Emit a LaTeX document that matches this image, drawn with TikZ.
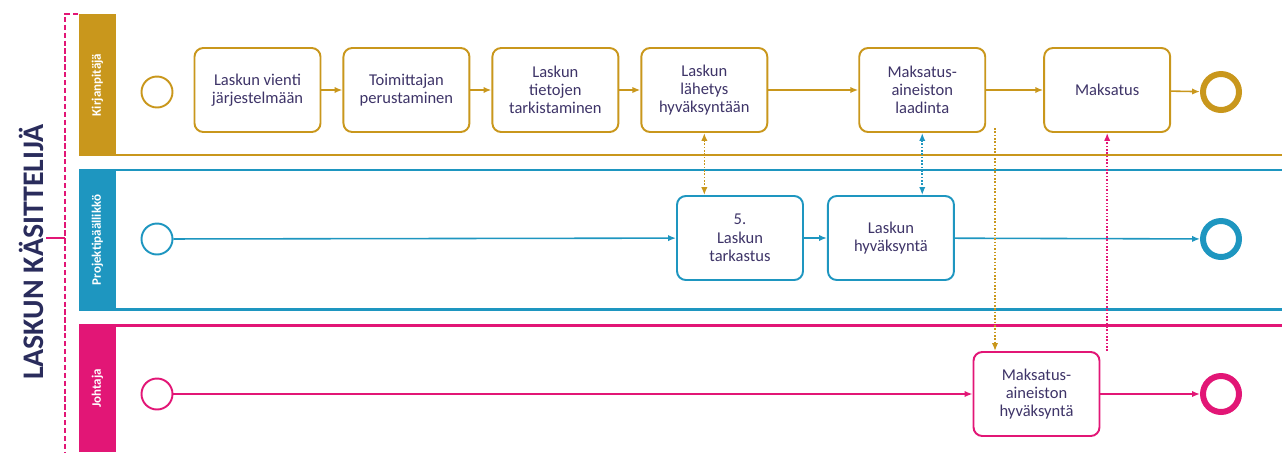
\documentclass[tikz,border=0pt]{standalone}
\usepackage{fontspec}
\setmainfont{Carlito}
\usepackage{tikz}
\usetikzlibrary{arrows.meta, positioning, calc}
\definecolor{kpgold}{RGB}{201,151,28}
\definecolor{ppblue}{RGB}{30,150,192}
\definecolor{jpink}{RGB}{226,22,118}
\definecolor{navy}{RGB}{42,44,92}
\definecolor{inktext}{RGB}{62,52,104}

\begin{document}
\begin{tikzpicture}[
    x=0.2mm, y=-0.2mm,
    >={Latex[length=4.5pt,width=3.6pt]},
    node distance=0.42cm,
    every text node part/.style={align=center},
    task/.style={draw, line width=1.1pt, rounded corners=5pt, fill=white, minimum width=2.52cm, minimum height=1.68cm, inner sep=2pt, font=\fontsize{9.4}{10.4}\selectfont, text=inktext},
    startev/.style={circle, draw, line width=1.1pt, minimum size=0.62cm, inner sep=0pt},
    endev/.style={circle, draw, line width=3.4pt, minimum size=0.72cm, inner sep=0pt},
    lanehead/.style={rotate=90, inner sep=0pt, font=\bfseries\fontsize{7.4}{8}\selectfont, text=white, minimum height=0.74cm},
    flow/.style={->, line width=0.9pt},
    msg/.style={line width=0.9pt, densely dotted},
    laneline/.style={line width=1.7pt}
]
\useasboundingbox (0,0) rectangle (1282,452);

% ==================== POOL LABEL ====================
\node[rotate=90, font=\bfseries\fontsize{17}{20}\selectfont, text=navy] (pool) at (31,252) {LASKUN KÄSITTELIJÄ};
\draw[jpink, line width=0.9pt, dash pattern=on 3pt off 1.5pt] (78,14) -- (65,14) -- (65,452);
\draw[jpink, line width=0.9pt] (65,238) -- (46,238);

% ==================== LANES ====================
\node[lanehead, fill=kpgold, minimum width=2.84cm] (kp_head) at (97.5,85) {Kirjanpitäjä};
\node[lanehead, fill=ppblue, minimum width=2.80cm] (pp_head) at (97.5,240) {Projektipäällikkö};
\node[lanehead, fill=jpink, minimum width=2.54cm] (jo_head) at (97.5,388.5) {Johtaja};

\draw[laneline, kpgold] (79,155) -- (1282,155);
\draw[laneline, ppblue] (79,170) -- (1282,170);
\draw[laneline, ppblue] (79,309) -- (1282,309);
\draw[laneline, jpink] (79,325) -- (1282,325);

% ==================== KIRJANPITAJA ====================
\node[startev, draw=kpgold] (kp_start) at (157,92) {};
\node[task, draw=kpgold] (vienti) at (257.5,90) {Laskun vienti\\järjestelmään};
\node[task, draw=kpgold, right=of vienti] (toimittaja) {Toimittajan\\perustaminen};
\node[task, draw=kpgold, right=of toimittaja] (tarkistus) {Laskun\\tietojen\\tarkistaminen};
\node[task, draw=kpgold, right=of tarkistus] (lahetys) {Laskun\\lähetys\\hyväksyntään};
\node[task, draw=kpgold, right=1.8cm of lahetys] (laadinta) {Maksatus-\\aineiston\\laadinta};
\node[task, draw=kpgold, right=1.14cm of laadinta] (maksatus) {Maksatus};
\node[endev, draw=kpgold] (kp_end) at (1221,92) {};

\draw[flow, kpgold] (vienti) -- (toimittaja);
\draw[flow, kpgold] (toimittaja) -- (tarkistus);
\draw[flow, kpgold] (tarkistus) -- (lahetys);
\draw[flow, kpgold] (lahetys) -- (laadinta);
\draw[flow, kpgold] (laadinta) -- (maksatus);
\draw[flow, kpgold] (maksatus) -- (kp_end);

% ==================== PROJEKTIPAALLIKKO ====================
\node[startev, draw=ppblue] (pp_start) at (157,239) {};
\node[task, draw=ppblue] (tarkastus) at (740,238) {5.\\Laskun\\tarkastus};
\node[task, draw=ppblue, right=0.46cm of tarkastus] (hyvaksynta) {Laskun\\hyväksyntä};
\node[endev, draw=ppblue] (pp_end) at (1221,239) {};

\draw[flow, ppblue] (pp_start) -- (tarkastus);
\draw[flow, ppblue] (tarkastus) -- (hyvaksynta);
\draw[flow, ppblue] (hyvaksynta) -- (pp_end);

% ==================== JOHTAJA ====================
\node[startev, draw=jpink] (jo_start) at (157,394) {};
\node[task, draw=jpink] (mhyvaksynta) at (1036.5,394) {Maksatus-\\aineiston\\hyväksyntä};
\node[endev, draw=jpink] (jo_end) at (1221,394) {};

\draw[flow, jpink] (jo_start) -- (mhyvaksynta);
\draw[flow, jpink] (mhyvaksynta) -- (jo_end);

% ==================== MESSAGES ====================
\coordinate (laad_out) at (995,128);
\coordinate (maks_in) at (maksatus.south |- mhyvaksynta.north);
\draw[msg, kpgold, <->] (lahetys.south) -- (lahetys.south |- tarkastus.north);
\draw[msg, ppblue, <->] (laadinta.south) -- (laadinta.south |- hyvaksynta.north);
\draw[msg, kpgold, ->] (laad_out) -- (laad_out |- mhyvaksynta.north);
\draw[msg, jpink, ->] (maks_in) -- (maksatus.south);

\end{tikzpicture}
\end{document}
